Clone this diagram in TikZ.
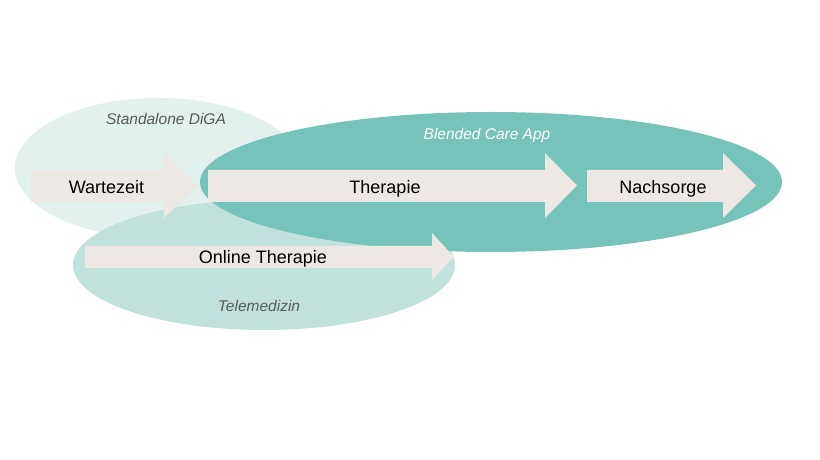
\documentclass[tikz,border=0pt]{standalone}
\usepackage{fontspec}
\setmainfont{Liberation Sans}
\definecolor{diga}{HTML}{E2F1EE}
\definecolor{blended}{HTML}{76C4B9}
\definecolor{tele}{HTML}{C1E2DC}
\definecolor{arrowfill}{HTML}{EDE8E3}
\definecolor{labelgray}{HTML}{595959}
\tikzset{
  flowbar/.style={fill=arrowfill, draw=none},
  steptext/.style={font=\fontsize{18bp}{20bp}\selectfont, text=black, inner sep=0pt, anchor=base},
  arealabel/.style={font=\fontsize{15.5bp}{17bp}\selectfont\itshape, text=labelgray, inner sep=0pt, anchor=base},
}
\begin{document}
\begin{tikzpicture}[x=1bp,y=-1bp]
\useasboundingbox (0,0) rectangle (820,460);
\fill[white] (0,0) rectangle (820,460);
% areas
\fill[diga] (158,168) ellipse [x radius=143, y radius=70];
\fill[tele] (264,265) ellipse [x radius=191, y radius=65];
\fill[blended] (491,182) ellipse [x radius=291, y radius=70];
% arrows
\fill[flowbar] (31,170) -- (164,170) -- (164,153) -- (197,185.5) -- (164,218) -- (164,202) -- (31,202) -- cycle;
\fill[flowbar] (208,170) -- (545,170) -- (545,153) -- (577,185.5) -- (545,218) -- (545,202) -- (208,202) -- cycle;
\fill[flowbar] (587,170) -- (723,170) -- (723,153) -- (756,185.5) -- (723,218) -- (723,202) -- (587,202) -- cycle;
\fill[flowbar] (85,246) -- (432,246) -- (432,233) -- (454,257) -- (432,280) -- (432,268) -- (85,268) -- cycle;
% texts
\node[steptext] (wartezeit) at (106.5,193.3) {Wartezeit};
\node[steptext] (therapie) at (385,193.3) {Therapie};
\node[steptext] (nachsorge) at (663,193.3) {Nachsorge};
\node[steptext] (online) at (263,263.3) {Online Therapie};
\node[arealabel] (digalabel) at (166,125) {Standalone DiGA};
\node[arealabel, text=white] (blendedlabel) at (487,140) {Blended Care App};
\node[arealabel] (telelabel) at (259,311.7) {Telemedizin};
\end{tikzpicture}
\end{document}
